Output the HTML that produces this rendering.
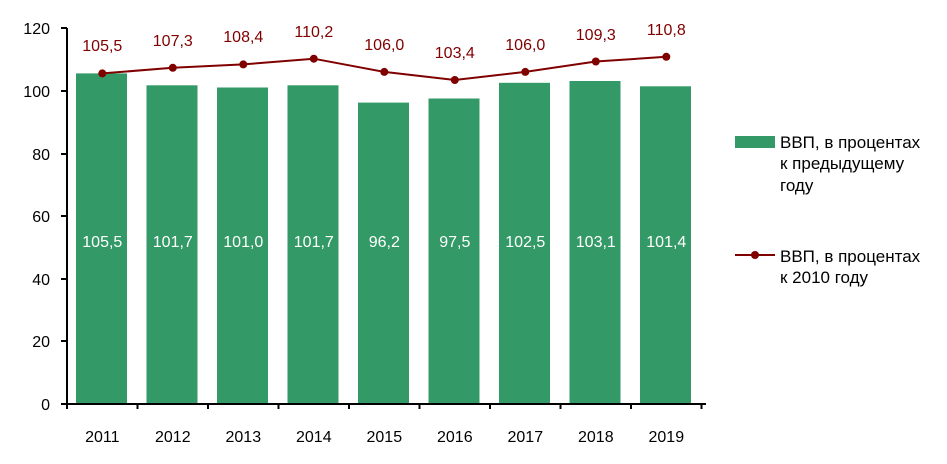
<!DOCTYPE html>
<html><head><meta charset="utf-8"><style>body{margin:0;background:#fff}svg{display:block}</style></head><body>
<svg width="947" height="464" xmlns="http://www.w3.org/2000/svg" font-family="Liberation Sans, sans-serif" font-size="16">
<g fill="#339966">
<rect x="76" y="73.4" width="51" height="330.6"/>
<rect x="146.5" y="85.3" width="51" height="318.7"/>
<rect x="217" y="87.5" width="51" height="316.5"/>
<rect x="287.5" y="85.3" width="51" height="318.7"/>
<rect x="358" y="102.6" width="51" height="301.4"/>
<rect x="428.5" y="98.5" width="51" height="305.5"/>
<rect x="499" y="82.8" width="51" height="321.2"/>
<rect x="569.5" y="81" width="51" height="323"/>
<rect x="640" y="86.3" width="51" height="317.7"/>
</g>
<g stroke="#000" stroke-width="2" fill="none">
<line x1="67" y1="28" x2="67" y2="409"/>
<line x1="61" y1="404" x2="706" y2="404"/>
<line x1="61" y1="28" x2="67" y2="28"/><line x1="61" y1="91" x2="67" y2="91"/><line x1="61" y1="154" x2="67" y2="154"/><line x1="61" y1="216" x2="67" y2="216"/><line x1="61" y1="279" x2="67" y2="279"/><line x1="61" y1="341" x2="67" y2="341"/>
<line x1="137.5" y1="404" x2="137.5" y2="409"/><line x1="208" y1="404" x2="208" y2="409"/><line x1="278.5" y1="404" x2="278.5" y2="409"/><line x1="349" y1="404" x2="349" y2="409"/><line x1="419.5" y1="404" x2="419.5" y2="409"/><line x1="490" y1="404" x2="490" y2="409"/><line x1="560.5" y1="404" x2="560.5" y2="409"/><line x1="631" y1="404" x2="631" y2="409"/><line x1="701.5" y1="404" x2="701.5" y2="409"/>
</g>
<g text-anchor="end" fill="#000">
<text x="50" y="34">120</text><text x="50" y="97">100</text><text x="50" y="160">80</text><text x="50" y="222">60</text><text x="50" y="285">40</text><text x="50" y="347">20</text><text x="50" y="410">0</text>
</g>
<g text-anchor="middle" fill="#000">
<text x="102.3" y="442">2011</text><text x="172.8" y="442">2012</text><text x="243.3" y="442">2013</text><text x="313.8" y="442">2014</text><text x="384.3" y="442">2015</text><text x="454.8" y="442">2016</text><text x="525.3" y="442">2017</text><text x="595.8" y="442">2018</text><text x="666.3" y="442">2019</text>
</g>
<g text-anchor="middle" fill="#fff">
<text x="102.3" y="247">105,5</text><text x="172.8" y="247">101,7</text><text x="243.3" y="247">101,0</text><text x="313.8" y="247">101,7</text><text x="384.3" y="247">96,2</text><text x="454.8" y="247">97,5</text><text x="525.3" y="247">102,5</text><text x="595.8" y="247">103,1</text><text x="666.3" y="247">101,4</text>
</g>
<polyline points="102.3,73.4 172.8,67.8 243.3,64.4 313.8,58.7 384.3,71.9 454.8,80 525.3,71.9 595.8,61.5 666.3,56.8" fill="none" stroke="#800000" stroke-width="2"/>
<g fill="#800000">
<circle cx="102.3" cy="73.4" r="4"/><circle cx="172.8" cy="67.8" r="4"/><circle cx="243.3" cy="64.4" r="4"/><circle cx="313.8" cy="58.7" r="4"/><circle cx="384.3" cy="71.9" r="4"/><circle cx="454.8" cy="80" r="4"/><circle cx="525.3" cy="71.9" r="4"/><circle cx="595.8" cy="61.5" r="4"/><circle cx="666.3" cy="56.8" r="4"/>
</g>
<g text-anchor="middle" fill="#800000">
<text x="102.3" y="51">105,5</text><text x="172.8" y="46">107,3</text><text x="243.3" y="42">108,4</text><text x="313.8" y="37">110,2</text><text x="384.3" y="50">106,0</text><text x="454.8" y="58">103,4</text><text x="525.3" y="50">106,0</text><text x="595.8" y="40">109,3</text><text x="666.3" y="35">110,8</text>
</g>
<rect x="735" y="136" width="40" height="12" fill="#339966"/>
<g font-size="17">
<text x="780" y="148">ВВП, в процентах</text><text x="780" y="169">к предыдущему</text><text x="780" y="191">году</text>
<text x="780" y="262">ВВП, в процентах</text><text x="780" y="283">к 2010 году</text>
</g>
<line x1="735" y1="255" x2="775" y2="255" stroke="#800000" stroke-width="2"/><circle cx="755" cy="255" r="4" fill="#800000"/>
</svg>
</body></html>
